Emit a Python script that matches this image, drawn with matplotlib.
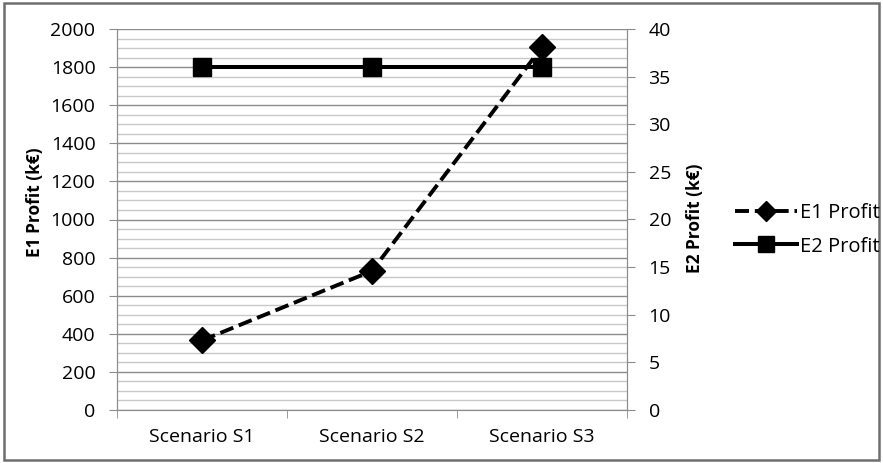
import matplotlib
matplotlib.use("Agg")
import matplotlib.pyplot as plt
from matplotlib.ticker import MultipleLocator
from matplotlib.patches import Rectangle
from matplotlib.lines import Line2D

plt.rcParams['font.family'] = ['Open Sans', 'DejaVu Sans']

categories = ["Scenario S1", "Scenario S2", "Scenario S3"]
e1_profit = [365, 730, 1905]   # left axis, k€
e2_profit = [36, 36, 36]       # right axis, k€
left_ticks = list(range(0, 2001, 200))
right_ticks = list(range(0, 41, 5))

E1_DASH = (0, (3.6, 1.5))

fig = plt.figure(figsize=(8.83, 4.63), dpi=100)
ax = fig.add_axes([117/883, 1 - 410/463, 510/883, 381/463])
ax2 = ax.twinx()

x = list(range(len(categories)))

# grid: minor every 50, major every 200
ax.set_ylim(0, 2000)
ax.set_xlim(-0.5, len(categories) - 0.5)
ax.yaxis.set_major_locator(MultipleLocator(200))
ax.yaxis.set_minor_locator(MultipleLocator(50))
ax.grid(which='major', axis='y', color='#8c8c8c', linewidth=1.0)
ax.grid(which='minor', axis='y', color='#c8c8c8', linewidth=1.0)
ax.set_axisbelow(True)
ax.set_yticks(left_ticks)

ax.plot(x, e1_profit, color='black', linestyle=E1_DASH, linewidth=2.8,
        marker='D', markersize=13, zorder=3, label='E1 Profit')

ax2.set_ylim(0, 40)
ax2.set_yticks(right_ticks)
ax2.plot(x, e2_profit, color='black', linewidth=2.9, marker='s', markersize=13,
         zorder=3, label='E2 Profit')

# category ticks sit between categories
ax.set_xticks(x)
ax.set_xticklabels(categories, fontsize=14)
ax.tick_params(axis='x', length=0, pad=13)
ax.set_xticks([-0.5, 0.5, 1.5, 2.5], minor=True)
ax.tick_params(axis='x', which='minor', length=5.5, color='#8c8c8c')

for a in (ax, ax2):
    for s in a.spines.values():
        s.set_color('#8c8c8c')
    a.spines['top'].set_visible(False)

ax.tick_params(axis='y', which='major', length=5.5, color='#8c8c8c', labelsize=14, pad=10)
ax.tick_params(axis='y', which='minor', length=0)
ax2.tick_params(axis='y', which='major', length=5.5, color='#8c8c8c', labelsize=14, pad=10)

ax.set_ylabel("E1 Profit (k€)", fontsize=12.5, fontweight='bold')
ax2.set_ylabel("E2 Profit (k€)", fontsize=12.5, fontweight='bold')
ax.yaxis.set_label_coords((44 - 117) / 510, (410 - 202) / 381)
ax2.yaxis.set_label_coords((686 - 117) / 510, (410 - 218) / 381)

handles = [
    Line2D([], [], color='black', linestyle=E1_DASH, linewidth=2.8, marker='D', markersize=10),
    Line2D([], [], color='black', linewidth=2.9, marker='s', markersize=11),
]
fig.legend(handles, ["E1 Profit", "E2 Profit"], loc='center left',
           bbox_to_anchor=(735/883, 1 - 230/463), frameon=False, fontsize=14.5,
           handlelength=3.1, handletextpad=0.15, labelspacing=0.65,
           borderpad=0, borderaxespad=0)

fig.patches.append(Rectangle((4/883, 3/463), 875/883, 457/463, transform=fig.transFigure,
                             fill=False, edgecolor='#6e6e6e', linewidth=1.8))

fig.savefig("out.png", dpi=100)
